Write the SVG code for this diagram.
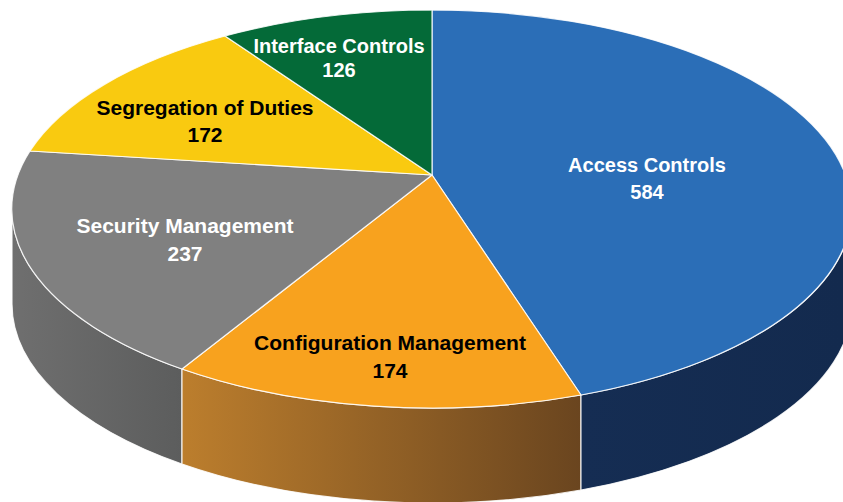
<svg xmlns="http://www.w3.org/2000/svg" width="843" height="502" viewBox="0 0 843 502">
<defs>
<linearGradient id="gGray" gradientUnits="userSpaceOnUse" x1="12" y1="0" x2="182" y2="0">
<stop offset="0" stop-color="#6f6f6f"/><stop offset="1" stop-color="#5c5d5d"/>
</linearGradient>
<linearGradient id="gOrange" gradientUnits="userSpaceOnUse" x1="182" y1="0" x2="581" y2="0">
<stop offset="0" stop-color="#bc7e2d"/><stop offset="1" stop-color="#6a451f"/>
</linearGradient>
<linearGradient id="gBlue" gradientUnits="userSpaceOnUse" x1="581" y1="0" x2="843" y2="0">
<stop offset="0" stop-color="#152d53"/><stop offset="1" stop-color="#132a4e"/>
</linearGradient>
</defs>
<style>
.edge{stroke:#ffffff;stroke-width:1.2;stroke-opacity:0.85;stroke-linejoin:round}
.lbl{font-family:"Liberation Sans",Arial,sans-serif;font-weight:bold;font-size:21px;text-anchor:middle}
.sm{font-size:20px}
.w{fill:#ffffff}
.k{fill:#000000}
</style>
<rect width="843" height="502" fill="#ffffff"/>
<g id="sides">
<path class="edge" fill="url(#gGray)" d="M12,209 L12,304 A420,199 0 0,0 182,464 L182,369 A420,199 0 0,1 12,209 Z"/>
<path class="edge" fill="url(#gOrange)" d="M182,369 L182,464 A420,199 0 0,0 581,490 L581,395 A420,199 0 0,1 182,369 Z"/>
<path class="edge" fill="url(#gBlue)" d="M581,395 L581,490 A420,199 0 0,0 852,304 L852,209 A420,199 0 0,1 581,395 Z"/>
</g>
<g id="access-controls">
<path class="edge" fill="#2b6eb7" d="M432,175 L432,10 A420,199 0 0,1 581,395 Z"/>
<text class="lbl w sm" x="647" y="172">Access Controls</text>
<text class="lbl w sm" x="647" y="199">584</text>
</g>
<g id="configuration-management">
<path class="edge" fill="#f8a21e" d="M432,175 L581,395 A420,199 0 0,1 182,369 Z"/>
<text class="lbl k" x="390" y="350">Configuration Management</text>
<text class="lbl k" x="390" y="378">174</text>
</g>
<g id="security-management">
<path class="edge" fill="#808080" d="M432,175 L182,369 A420,199 0 0,1 30,151 Z"/>
<text class="lbl w" x="185" y="233">Security Management</text>
<text class="lbl w" x="185" y="261">237</text>
</g>
<g id="segregation-of-duties">
<path class="edge" fill="#f9ca10" d="M432,175 L30,151 A420,199 0 0,1 225,36 Z"/>
<text class="lbl k" x="205" y="115">Segregation of Duties</text>
<text class="lbl k" x="205" y="142">172</text>
</g>
<g id="interface-controls">
<path class="edge" fill="#046a38" d="M432,175 L225,36 A420,199 0 0,1 432,10 Z"/>
<text class="lbl w sm" x="339" y="53">Interface Controls</text>
<text class="lbl w sm" x="339" y="77">126</text>
</g>
</svg>
